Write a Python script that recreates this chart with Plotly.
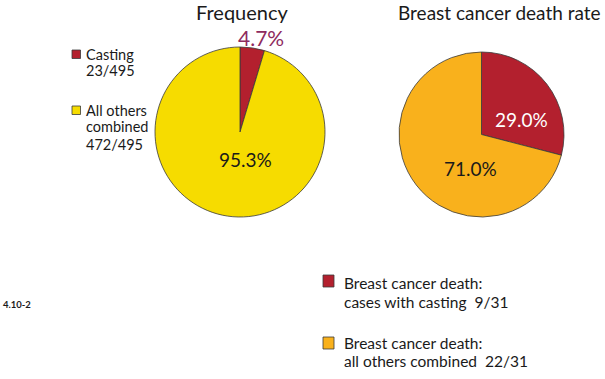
import plotly.graph_objects as go

freq_labels = ["Casting", "All others combined"]
freq_legend_lines = [["Casting", "23/495"], ["All others", "combined", "472/495"]]
freq_values = [23, 472]
freq_pct_text = ["4.7%", "95.3%"]
freq_colors = ["#B3202E", "#F6DC00"]

death_labels = ["Cases with casting", "All others combined"]
death_legend_lines = [["Breast cancer death:", "cases with casting  9/31"],
                      ["Breast cancer death:", "all others combined  22/31"]]
death_values = [9, 22]
death_pct_text = ["29.0%", "71.0%"]
death_colors = ["#B3202E", "#F9B11C"]

titles = ["Frequency", "Breast cancer death rate"]
figure_id = "4.10-2"

FONT = "Lato"
W, H = 605, 379
EDGE = "#3a3a3a"

def px(x0, x1):
    return [x0 / W, x1 / W]

def py(top, bottom):
    return [1 - bottom / H, 1 - top / H]

fig = go.Figure()
fig.add_trace(go.Pie(
    labels=freq_labels, values=freq_values, sort=False, direction="clockwise",
    rotation=0, marker=dict(colors=freq_colors, line=dict(color=EDGE, width=0.8)),
    textinfo="none", hoverinfo="label+percent", showlegend=False,
    domain=dict(x=px(155, 325), y=py(47, 217)),
))
fig.add_trace(go.Pie(
    labels=death_labels, values=death_values, sort=False, direction="clockwise",
    rotation=0, marker=dict(colors=death_colors, line=dict(color=EDGE, width=0.8)),
    textinfo="none", hoverinfo="label+percent", showlegend=False,
    domain=dict(x=px(399, 564), y=py(52, 217)),
))

def A(text, x, y, size, color="#1a1a1a", xanchor="center"):
    return dict(text=text, x=x / W, y=1 - y / H, xref="paper", yref="paper",
                xanchor=xanchor, yanchor="middle", showarrow=False,
                font=dict(size=size, color=color, family=FONT))

ann = [
    A(titles[0], 242, 12, 20),
    A(titles[1], 603, 12, 19, xanchor="right"),
    A(freq_pct_text[0], 261, 38, 21, "#8E2A5E"),
    A(freq_pct_text[1], 245, 160, 19),
    A(death_pct_text[0], 521, 119, 19, "white"),
    A(death_pct_text[1], 470, 168, 19),
    A("<b>" + figure_id + "</b>", 1, 304, 9.5, xanchor="left"),
]
shapes = []

# left legend
left_rows = [[54, 70.5], [110, 127, 144]]
left_sq = [50, 106]
for lines, ys, sq, col in zip(freq_legend_lines, left_rows, left_sq, freq_colors):
    shapes.append(dict(type="rect", xref="paper", yref="paper",
                       x0=72 / W, x1=80.5 / W, y0=1 - (sq + 8.5) / H, y1=1 - sq / H,
                       fillcolor=col, line=dict(color=EDGE, width=0.8)))
    for t, y in zip(lines, ys):
        ann.append(A(t, 84, y, 14.5, xanchor="left"))

# bottom legend
bot_rows = [[283, 302], [343, 361]]
bot_sq = [275, 337]
for lines, ys, sq, col in zip(death_legend_lines, bot_rows, bot_sq, death_colors):
    shapes.append(dict(type="rect", xref="paper", yref="paper",
                       x0=323 / W, x1=334 / W, y0=1 - (sq + 12) / H, y1=1 - sq / H,
                       fillcolor=col, line=dict(color=EDGE, width=0.8)))
    for t, y in zip(lines, ys):
        ann.append(A(t, 342, y, 15.5, xanchor="left"))

fig.update_layout(
    width=W, height=H, margin=dict(l=0, r=0, t=0, b=0),
    paper_bgcolor="white", plot_bgcolor="white",
    font=dict(family=FONT, color="#1a1a1a"),
    annotations=ann, shapes=shapes,
)

fig.write_html("out.html", config={"displayModeBar": False},
               post_script="document.body.style.margin='0';")
